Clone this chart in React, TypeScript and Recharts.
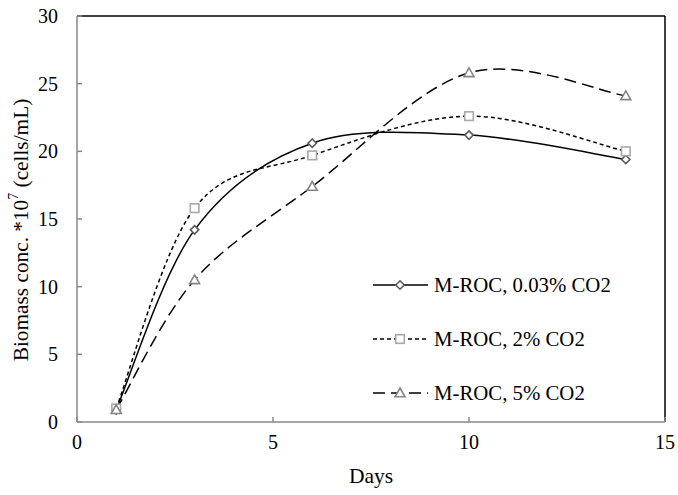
import React from "react";
import { LineChart, Line, XAxis, YAxis, ReferenceLine, Legend } from "recharts";

const days = [1, 3, 6, 10, 14];
const seriesNames = ["M-ROC, 0.03% CO2", "M-ROC, 2% CO2", "M-ROC, 5% CO2"];
const co2Low = [0.9, 14.2, 20.6, 21.2, 19.4];
const co2Two = [1.0, 15.8, 19.7, 22.6, 20.0];
const co2Five = [0.9, 10.5, 17.4, 25.8, 24.1];
const xTicks = [0, 5, 10, 15];
const yTicks = [0, 5, 10, 15, 20, 25, 30];

const data = days.map((d, i) => ({ day: d, a: co2Low[i], b: co2Two[i], c: co2Five[i] }));

const FONT = "'Liberation Serif', 'Times New Roman', serif";

// Excel-like smoothed curve (cardinal spline, k = 1/6)
const excelCurve = (context: any) => {
  let pts: [number, number][] = [];
  return {
    areaStart() {},
    areaEnd() {},
    lineStart() {
      pts = [];
    },
    lineEnd() {
      const n = pts.length;
      if (n === 0) return;
      context.moveTo(pts[0][0], pts[0][1]);
      if (n === 1) return;
      for (let i = 0; i < n - 1; i++) {
        const p0 = pts[Math.max(0, i - 1)];
        const p1 = pts[i];
        const p2 = pts[i + 1];
        const p3 = pts[Math.min(n - 1, i + 2)];
        const c1x = p1[0] + (p2[0] - p0[0]) / 6;
        const c1y = p1[1] + (p2[1] - p0[1]) / 6;
        const c2x = p2[0] - (p3[0] - p1[0]) / 6;
        const c2y = p2[1] - (p3[1] - p1[1]) / 6;
        context.bezierCurveTo(c1x, c1y, c2x, c2y, p2[0], p2[1]);
      }
    },
    point(x: number, y: number) {
      pts.push([+x, +y]);
    },
  };
};

const markerColors = ["#5a5a5a", "#a8a8a8", "#858585"];

const Marker = ({ kind, cx, cy }: { kind: number; cx: number; cy: number }) => {
  const col = markerColors[kind];
  if (kind === 0) {
    const r = 4.2;
    return (
      <polygon
        points={`${cx},${cy - r} ${cx + r},${cy} ${cx},${cy + r} ${cx - r},${cy}`}
        fill="#fff"
        stroke={col}
        strokeWidth={1.6}
      />
    );
  }
  if (kind === 1) {
    const r = 4.3;
    return <rect x={cx - r} y={cy - r} width={2 * r} height={2 * r} fill="#fff" stroke={col} strokeWidth={1.6} />;
  }
  const r = 5;
  return (
    <polygon
      points={`${cx},${cy - r} ${cx + r},${cy + r * 0.75} ${cx - r},${cy + r * 0.75}`}
      fill="#fff"
      stroke={col}
      strokeWidth={1.6}
    />
  );
};

const makeDot = (kind: number) => (props: any) => {
  const { cx, cy, index } = props;
  if (cx == null || cy == null) return <g key={index} />;
  return <Marker key={index} kind={kind} cx={cx} cy={cy} />;
};

const dashes = ["", "4 3", "12 6"];

const LegendContent = () => (
  <svg width={280} height={140} style={{ display: "block" }}>
    {seriesNames.map((name, i) => {
      const y = 15 + i * 54;
      return (
        <g key={name}>
          <line x1={3} x2={58} y1={y} y2={y} stroke="#000" strokeWidth={1.5} strokeDasharray={dashes[i] || undefined} />
          <Marker kind={i} cx={30} cy={y} />
          <text x={64} y={y} dy="0.35em" fontFamily={FONT} fontSize={20.8} fill="#000">
            {name}
          </text>
        </g>
      );
    })}
  </svg>
);

const YLabel = () => (
  <text
    x={21}
    y={230}
    transform="rotate(-90, 21, 230)"
    textAnchor="middle"
    dominantBaseline="central"
    fontFamily={FONT}
    fontSize={21.3}
    fill="#000"
  >
    Biomass conc. *10
    <tspan baselineShift="super" fontSize={14}>7</tspan>
    <tspan> (cells/mL)</tspan>
  </text>
);

export default function App() {
  return (
    <div style={{ position: "absolute", left: 0, top: 0, background: "#fff" }}>
      <LineChart width={678} height={495} data={data} margin={{ top: 16, right: 13, bottom: 0, left: 17 }}>
        <XAxis
          dataKey="day"
          type="number"
          domain={[0, 15]}
          ticks={xTicks}
          tickSize={-5}
          tickMargin={18}
          stroke="#888"
          strokeWidth={1.5}
          tick={{ fill: "#000", fontFamily: FONT, fontSize: 20 }}
          height={73}
          label={{ value: "Days", position: "insideBottom", offset: 12, fill: "#000", fontFamily: FONT, fontSize: 21.5 }}
        />
        <YAxis
          type="number"
          domain={[0, 30]}
          ticks={yTicks}
          tickSize={-5}
          tickMargin={24}
          width={60}
          stroke="#888"
          strokeWidth={1.5}
          tick={{ fill: "#000", fontFamily: FONT, fontSize: 20 }}
          label={<YLabel />}
        />
        <ReferenceLine y={30} stroke="#000" strokeWidth={1.5} />
        <ReferenceLine x={15} stroke="#000" strokeWidth={1.5} />
        <Line
          dataKey="a"
          name={seriesNames[0]}
          type={excelCurve as any}
          stroke="#000"
          strokeWidth={1.5}
          dot={makeDot(0)}
          activeDot={false}
          isAnimationActive={false}
        />
        <Line
          dataKey="b"
          name={seriesNames[1]}
          type={excelCurve as any}
          stroke="#000"
          strokeWidth={1.5}
          strokeDasharray="4 3"
          dot={makeDot(1)}
          activeDot={false}
          isAnimationActive={false}
        />
        <Line
          dataKey="c"
          name={seriesNames[2]}
          type={excelCurve as any}
          stroke="#000"
          strokeWidth={1.5}
          strokeDasharray="12 6"
          dot={makeDot(2)}
          activeDot={false}
          isAnimationActive={false}
        />
        <Legend
          layout="vertical"
          align="center"
          verticalAlign="middle"
          content={<LegendContent />}
          wrapperStyle={{ left: 370, top: 270, width: 280, height: 140 }}
        />
      </LineChart>
    </div>
  );
}
